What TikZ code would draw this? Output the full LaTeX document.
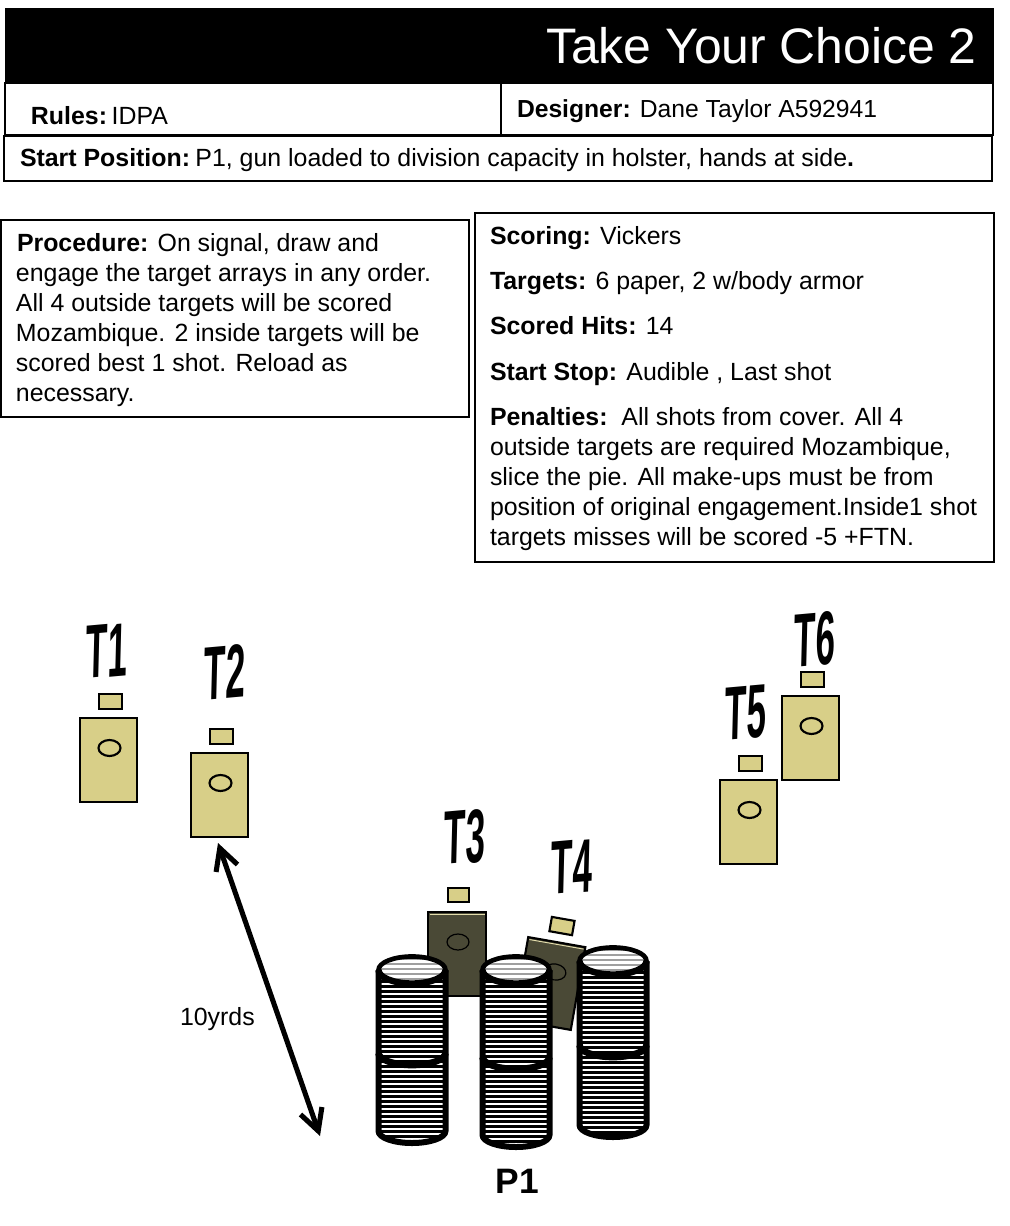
\documentclass[tikz,border=0pt]{standalone}
\usepackage{fontspec}
\usetikzlibrary{arrows.meta}
\setmainfont{Liberation Sans}
\definecolor{tan}{HTML}{D8CF88}
\definecolor{darktan}{HTML}{4A4936}
\newcommand{\bodysize}{\fontsize{18.67pt}{22pt}\selectfont}
\tikzset{
  x=0.75pt,y=-0.75pt,
  frame/.style={draw=black,line width=1.3pt,fill=white},
  txt/.style={anchor=base west,inner sep=0pt,outer sep=0pt,font=\bodysize},
  tlabel/.style={inner sep=0pt,outer sep=0pt,xslant=0.025,yslant=0.09,font=\fontsize{57pt}{60pt}\selectfont\bfseries},
  tgt/.style={draw=black,line width=1.6pt},
  barb/.style={line width=3.8pt,{Straight Barb[length=16pt,width=17pt,line width=3.8pt]}-{Straight Barb[length=16pt,width=17pt,line width=3.8pt]}},
}
\newcommand{\target}[4]{%
  \fill[#3,tgt] (#1,#2) rectangle ++(57,84);
  \fill[#3,tgt] (#1+19,#2-24) rectangle ++(23,15);
  \draw[#3,tgt,draw=#4] (#1+29.5,#2+30) ellipse (11 and 8);
}
\newcommand{\cyl}[4]{%
  \begin{scope}
    \clip (#1-33.5,#2) -- (#1-33.5,#4) arc[start angle=180,end angle=360,x radius=33.5,y radius=-12] -- (#1+33.5,#2) -- cycle;
    \fill[white] (#1-34,#2-15) rectangle (#1+34,#4+15);
    \foreach \k in {0,...,40}{
      \fill[black] (#1-36,#2+\k*5) rectangle ++(72,2.5);
    }
  \end{scope}
  \draw[black,line width=4.5pt] (#1-33.5,#2) -- (#1-33.5,#4) arc[start angle=180,end angle=360,x radius=33.5,y radius=-12] -- (#1+33.5,#2);
  \draw[black,line width=5pt] (#1-33.5,#3) arc[start angle=180,end angle=360,x radius=33.5,y radius=-12];
  \begin{scope}
    \clip (#1,#2) ellipse (33.5 and 13.5);
    \fill[white] (#1-34,#2-15) rectangle (#1+34,#2+15);
    \foreach \k in {0,...,5}{
      \fill[gray!75] (#1-36,#2-12+\k*5) rectangle ++(72,2.2);
    }
  \end{scope}
  \draw[black,line width=3.5pt] (#1,#2) ellipse (33.5 and 13.5);
  \draw[black,line width=4.8pt] (#1-33.5,#2) arc[start angle=180,end angle=360,x radius=33.5,y radius=-13.5];
}
\begin{document}
\begin{tikzpicture}
\useasboundingbox (0,0) rectangle (1009,1226);
\fill[white] (0,0) rectangle (1009,1226);
\fill[black] (5,8) rectangle (994,83);
\node[anchor=base east,inner sep=0pt,text=white,font=\fontsize{37.4pt}{40pt}\selectfont] (title) at (977,64) {Take Your Choice 2};
\draw[frame] (5,83) rectangle (993,135);
\draw[black,line width=1.3pt] (501,83) -- (501,135);
\draw[frame] (4,136) rectangle (992,181);
\node[txt] (rules) at (31,125) {\textbf{Rules:}\hspace{3.5pt}IDPA};
\node[txt,font=\fontsize{18.5pt}{22pt}\selectfont] (designer) at (517,118) {\textbf{Designer:} Dane Taylor A592941};
\node[txt] (start) at (20,167) {\textbf{Start Position:}\hspace{4pt}P1, gun loaded to division capacity in holster, hands at side\textbf{.}};
\draw[frame] (1,220) rectangle (469,417);
\node[txt] (p1) at (17,252) {\textbf{Procedure:} On signal, draw and};
\node[txt] (p2) at (16,282) {engage the target arrays in any order.};
\node[txt] (p3) at (16,312) {All 4 outside targets will be scored};
\node[txt] (p4) at (16,342) {Mozambique. 2 inside targets will be};
\node[txt] (p5) at (16,372) {scored best 1 shot. Reload as};
\node[txt] (p6) at (16,402) {necessary.};
\draw[frame] (475,213) rectangle (994,562);
\node[txt] (s1) at (490,245) {\textbf{Scoring:} Vickers};
\node[txt] (s2) at (490,290) {\textbf{Targets:} 6 paper, 2 w/body armor};
\node[txt] (s3) at (490,335) {\textbf{Scored Hits:} 14};
\node[txt] (s4) at (490,380) {\textbf{Start Stop:} Audible , Last shot};
\node[txt] (s5) at (490,425) {\textbf{Penalties:}\ \ All shots from cover. All 4};
\node[txt] (s6) at (490,455) {outside targets are required Mozambique,};
\node[txt] (s7) at (490,485) {slice the pie. All make-ups must be from};
\node[txt] (s8) at (490,515) {position of original engagement.Inside1 shot};
\node[txt] (s9) at (490,545) {targets misses will be scored -5 +FTN.};
\node[tlabel] (t1) at (107,651) {\scalebox{0.46}[1]{T1}};
\node[tlabel] (t2) at (225,672) {\scalebox{0.46}[1]{T2}};
\node[tlabel] (t3) at (465,837) {\scalebox{0.46}[1]{T3}};
\node[tlabel] (t4) at (572,867) {\scalebox{0.46}[1]{T4}};
\node[tlabel] (t5) at (746,713) {\scalebox{0.46}[1]{T5}};
\node[tlabel] (t6) at (815,639) {\scalebox{0.46}[1]{T6}};
\target{80}{718}{tan}{black}
\target{191}{753}{tan}{black}
\target{720}{780}{tan}{black}
\target{782}{696}{tan}{black}
\fill[darktan,tgt] (428,912) rectangle (486,996);
\draw[tan!70!white,line width=0.7pt] (429.5,914.2) -- (484.5,914.2);
\fill[tan,tgt] (448,888) rectangle ++(21,14);
\draw[tgt,line width=0.9pt,fill=darktan] (458,942) ellipse (11 and 8);
\begin{scope}[shift={(549.5,983.5)},rotate=-10]
  \fill[darktan,tgt] (-29,-42) rectangle (29,42);
  \draw[tan!70!white,line width=0.7pt] (-27.5,-39.8) -- (27.5,-39.8);
  \fill[tan,tgt] (-9.2,-66) rectangle (13.8,-51.5);
  \draw[tgt,line width=0.9pt,fill=darktan] (3.4,-12.3) ellipse (11 and 8);
\end{scope}
\cyl{613}{961}{1045}{1125}
\cyl{412}{970}{1053}{1131}
\cyl{516}{970}{1057}{1135}
\node[anchor=base,inner sep=0pt,font=\fontsize{26.5pt}{30pt}\selectfont\bfseries] (p1lab) at (517.5,1193) {P1};
\coordinate (a) at (218,843);
\coordinate (b) at (320,1136);
\draw[black,barb] (a) -- (b);
\node[txt] (dim) at (180,1025) {10yrds};
\end{tikzpicture}
\end{document}
